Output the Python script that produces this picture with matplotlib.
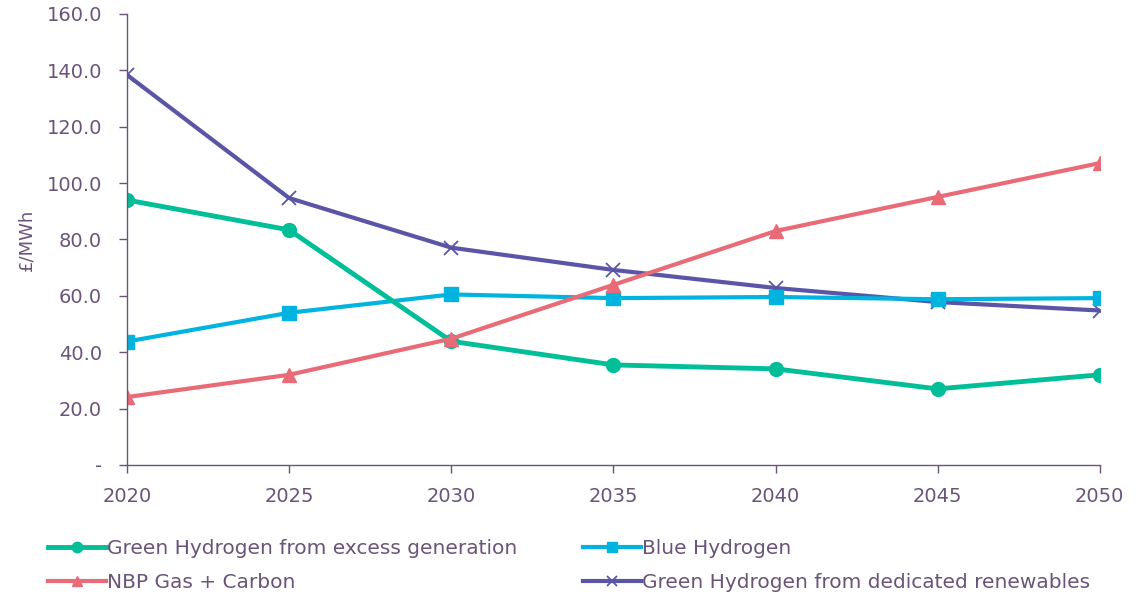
import matplotlib.pyplot as plt
from matplotlib.ticker import FuncFormatter

years = [2020, 2025, 2030, 2035, 2040, 2045, 2050]
green_excess = [94.0, 83.4, 43.9, 35.5, 34.1, 27.0, 32.0]
blue_h2 = [43.8, 54.0, 60.5, 59.2, 59.6, 58.8, 59.2]
nbp_gas = [24.1, 32.0, 44.8, 63.9, 83.0, 95.1, 107.1]
green_dedicated = [138.4, 94.7, 77.1, 69.2, 62.8, 57.8, 54.8]

text_color = "#6A5478"
axis_color = "#6A5478"

plt.rcParams["font.family"] = ["DejaVu Sans"]

fig = plt.figure(figsize=(11.48, 5.95), dpi=100)
ax = fig.add_axes([0.1106, 0.2185, 0.8474, 0.758])

ax.plot(years, green_dedicated, color="#5B55A8", linewidth=3.0, marker="x",
        markersize=10, markeredgewidth=1.3,
        label="Green Hydrogen from dedicated renewables")
ax.plot(years, blue_h2, color="#00B4DF", linewidth=3.0, marker="s",
        markersize=10, label="Blue Hydrogen")
ax.plot(years, green_excess, color="#00BE98", linewidth=3.5, marker="o",
        markersize=10, label="Green Hydrogen from excess generation")
ax.plot(years, nbp_gas, color="#E96B77", linewidth=3.0, marker="^",
        markersize=10, label="NBP Gas + Carbon")

ax.set_xlim(2020, 2050)
ax.set_ylim(0, 160)
ax.set_xticks(years)
ax.set_yticks(range(0, 161, 20))
ax.yaxis.set_major_formatter(
    FuncFormatter(lambda v, _: "-" if v == 0 else f"{v:.1f}"))

for side in ["top", "right"]:
    ax.spines[side].set_visible(False)
for side in ["left", "bottom"]:
    ax.spines[side].set_color(axis_color)
    ax.spines[side].set_linewidth(1.0)
ax.tick_params(axis="both", colors=axis_color, labelcolor=text_color,
               labelsize=14, length=6, width=1.0)
ax.tick_params(axis="x", pad=10)
ax.tick_params(axis="y", pad=12)
ax.set_ylabel("£/MWh", color=text_color, fontsize=13, labelpad=8)

handles, labels = ax.get_legend_handles_labels()
order = [2, 3, 1, 0]
fig.legend([handles[i] for i in order], [labels[i] for i in order],
           loc="lower left", bbox_to_anchor=(0.026, -0.026), ncol=2,
           frameon=False, fontsize=14.5, labelcolor=text_color,
           handlelength=2.9, handletextpad=0.05, columnspacing=3.25,
           labelspacing=0.75, markerscale=0.75)

fig.savefig("out.png", dpi=100)
